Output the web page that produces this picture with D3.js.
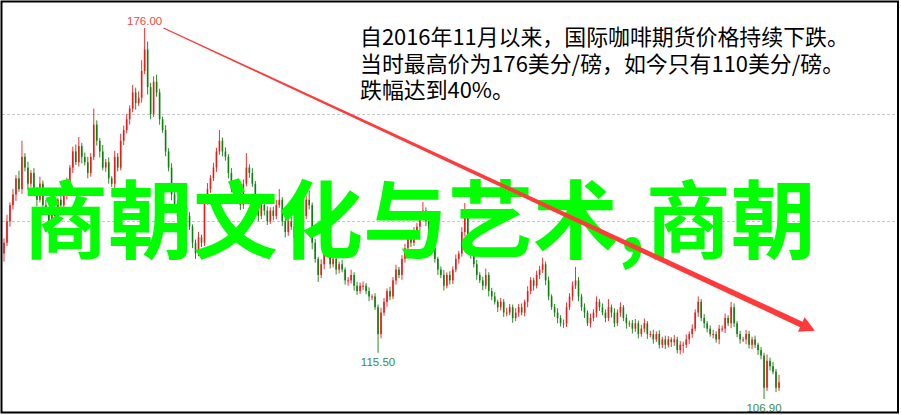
<!DOCTYPE html>
<html><head><meta charset="utf-8">
<script src="https://cdn.jsdelivr.net/npm/d3@7/dist/d3.min.js"></script>
<style>html,body{margin:0;padding:0;background:#fff;}svg{display:block;}</style>
</head><body>
<script>
const firstOpen = 134;
const closes = [
136,140,143,145,148,146,152,150,147,149,
146,144,147,143,142,139,142,141,144,143,
145,147,150,153,151,154,152,151,149,152,
158,155,153,150,151,148,147,152,150,155,
157,159,161,164,162,163,168,172,165,160,
166,164,159,157,153,150,145,143,141,142,
143,141,139,136,134,137,136,144,146,148,
150,153,155,153,152,149,146,144,145,143,
147,150,149,147,144,141,143,142,140,142,
141,143,144,140,138,140,139,137,140,140,
141,144,143,136,133,130,132,135,134,132,
133,131,132,131,129,129,130,128,127,128,
128,127,126,126,124,119,123,125,127,126,
129,131,130,133,135,137,136,138,139,141,
142,140,138,135,133,131,130,128,130,129,
131,133,134,138,141,137,134,132,130,129,
128,130,127,126,125,124,125,123,123,124,
122,123,124,123,125,127,129,128,130,131,
132,129,126,124,123,122,121,121,124,126,
128,129,126,124,123,121,122,123,125,124,
123,122,124,123,121,123,124,122,121,121,
120,121,119,120,121,119,119,118,119,117,
118,117,118,117.5,118,116,117,117,118,119,
120,123,125,122,121,120,119,119,118,120,
120,122,121,124,121,119,118,118,119,117,
118,117,116,115,109,114,113,112,109,110];
const upperWicks = [
0.8,1.2,0.5,1.0,0.6,1.4,3.0,0.7,1.1,0.5,
0.9,0.4,1.3,0.6,1.0,0.5,0.8,1.2,0.4,0.9,
0.6,1.1,0.5,0.9,1.3,1.7,0.6,0.8,1.0,0.7,
3.0,0.8,0.5,1.2,0.6,0.9,0.4,1.1,0.7,1.3,
0.8,1.0,0.6,1.4,0.9,1.2,2.0,4.0,1.5,0.8,
1.0,1.3,0.7,0.5,0.9,0.6,0.8,0.4,1.0,0.7,
0.9,0.5,0.7,0.4,0.6,1.0,0.5,0.8,1.1,0.6,
0.9,0.7,2.0,0.6,0.8,0.5,0.9,0.4,1.0,0.6,
0.8,2.7,0.6,0.9,0.5,0.7,1.0,0.4,0.8,0.6,
0.7,1.0,2.0,0.5,0.8,0.6,0.9,0.4,0.7,1.0,
0.6,0.8,1.8,0.5,0.7,0.4,0.9,0.6,0.8,0.5,
0.7,0.9,0.5,0.8,0.4,0.6,1.0,0.5,0.7,0.6,
0.8,0.5,0.7,0.4,0.6,0.5,0.9,0.7,0.5,0.8,
0.6,0.9,0.5,0.7,0.8,0.6,0.4,0.9,0.7,0.5,
1.6,0.6,0.8,0.5,0.7,0.4,0.6,0.9,0.5,0.7,
0.6,0.8,0.5,0.9,2.4,0.6,0.7,0.4,0.8,0.5,
0.7,1.2,0.5,0.6,0.8,0.4,0.7,0.5,0.9,0.6,
0.5,0.8,0.6,0.7,0.4,0.9,0.6,0.5,0.8,0.7,
1.2,0.5,0.7,0.4,0.6,0.8,0.5,0.7,0.9,0.6,
0.8,2.5,0.6,0.5,0.7,0.4,0.8,0.6,1.0,0.5,
0.7,0.6,1.5,0.5,0.8,0.6,0.9,0.4,0.7,0.5,
0.6,0.8,0.5,0.7,0.9,0.4,0.6,0.8,0.5,0.7,
0.5,0.7,0.6,0.4,0.8,0.5,0.7,0.6,0.9,0.5,
0.8,0.6,1.0,0.5,0.7,0.4,0.6,0.8,0.5,0.7,
0.6,0.8,0.5,1.0,0.7,0.4,0.6,0.5,0.8,0.6,
0.5,0.7,0.4,0.6,0.5,1.2,0.6,0.8,0.5,1.4];
const lowerWicks = [
1.5,0.6,1.0,0.8,1.2,0.5,0.9,0.7,1.1,0.6,
0.8,1.2,0.5,0.9,0.7,1.3,0.6,1.0,0.8,0.5,
0.7,0.9,0.6,1.0,0.5,0.8,1.2,0.6,1.0,0.7,
0.6,0.9,1.1,0.5,0.8,1.0,0.6,0.9,0.7,0.5,
0.8,0.6,1.0,0.7,1.2,0.5,0.9,0.6,1.4,1.0,
0.6,0.8,1.0,0.5,0.9,0.7,1.1,0.6,0.8,0.5,
0.7,0.9,0.6,1.0,1.0,0.5,0.8,0.6,0.9,0.7,
0.5,0.8,0.6,0.9,0.7,1.0,0.6,0.8,0.5,0.9,
0.7,0.5,0.9,0.6,0.8,1.0,0.6,0.9,0.7,0.5,
0.8,0.6,0.5,0.9,1.0,0.7,0.6,0.8,0.5,0.7,
0.9,0.6,0.8,1.2,0.7,1.3,0.6,0.9,0.5,0.8,
0.6,0.9,0.7,0.5,0.8,1.0,0.6,0.9,0.7,0.5,
0.8,0.6,0.9,0.7,0.5,3.5,0.8,0.6,0.9,0.7,
0.5,0.8,0.6,0.9,0.7,0.5,0.8,0.6,0.9,0.7,
0.6,0.9,0.5,0.8,0.7,1.0,0.6,0.9,0.5,0.8,
0.7,0.5,0.9,0.6,0.8,0.7,1.0,0.6,0.9,0.5,
0.8,0.6,1.0,0.7,0.5,0.9,0.6,0.8,0.7,0.5,
0.9,0.6,0.8,0.5,0.7,1.0,0.6,0.9,0.5,0.8,
0.6,0.9,0.7,0.5,0.8,1.0,0.6,0.9,0.7,0.5,
0.8,0.6,0.9,0.7,1.0,0.5,0.8,0.6,0.9,0.7,
0.5,0.8,0.6,0.9,0.7,0.5,0.8,0.6,1.0,0.7,
0.9,0.6,0.8,0.5,0.7,0.9,0.6,0.8,0.5,0.7,
0.6,0.8,0.5,0.9,0.7,0.6,0.8,1.5,0.6,0.9,
0.7,0.5,0.8,0.6,0.9,0.7,0.5,0.8,0.6,0.9,
0.6,0.8,0.5,0.9,0.7,0.6,0.8,0.5,0.9,0.7,
0.8,0.6,0.9,0.7,2.1,0.6,0.8,0.5,0.8,0.6];
const gridValues = [160, 140];
const labelIndex = [47, 125, 254];
const labelValues = [176.00, 115.50, 106.90];
const arrowFrom = [53.3, 176];
const arrowTo = [271, 119.6];
const noteLines = ["自2016年11月以来，国际咖啡期货价格持续下跌。","当时最高价为176美分/磅，如今只有110美分/磅。","跌幅达到40%。"];
const overlayText = "商朝文化与艺术,商朝";

const W = 901, H = 415;
const data = closes.map((c, i) => {
  const o = i === 0 ? firstOpen : closes[i - 1];
  return {i, o, c, h: Math.max(o, c) + upperWicks[i], l: Math.min(o, c) - lowerWicks[i]};
});

const svg = d3.select("body").append("svg").attr("width", W).attr("height", H);
const x = d3.scaleLinear().domain([0, closes.length - 1]).range([4, 779]);
const y = d3.scaleLinear().domain([176, 106.9]).range([28, 399]);

// grid
svg.selectAll("line.grid").data(gridValues).enter().append("line")
  .attr("x1", 2).attr("x2", 898)
  .attr("y1", d => Math.round(y(d)) + 0.5).attr("y2", d => Math.round(y(d)) + 0.5)
  .attr("stroke", "#c8c8c8").attr("stroke-width", 1).attr("stroke-dasharray", "3,2");

const red = "#f01818", green = "#0e800e";
const g = svg.append("g");
const candle = g.selectAll("g.c").data(data).enter().append("g");
candle.append("line")
  .attr("x1", d => x(d.i)).attr("x2", d => x(d.i))
  .attr("y1", d => y(d.h)).attr("y2", d => y(d.l))
  .attr("stroke", d => d.c >= d.o ? red : green).attr("stroke-width", 0.9);
candle.append("rect")
  .attr("x", d => x(d.i) - 0.8).attr("width", 1.6)
  .attr("y", d => y(Math.max(d.o, d.c)))
  .attr("height", d => Math.max(1, y(Math.min(d.o, d.c)) - y(Math.max(d.o, d.c))))
  .attr("fill", d => d.c >= d.o ? red : green);

// labels
const labelColors = ["#f04848", "#3a8a4a", "#3a8a4a"];
svg.selectAll("text.lab").data(labelValues).enter().append("text")
  .attr("x", (d, k) => x(labelIndex[k]))
  .attr("y", (d, k) => k === 0 ? y(d) - 3 : y(d) + 13)
  .attr("text-anchor", "middle")
  .attr("font-family", "Liberation Sans, Arial, sans-serif").attr("font-size", 11.5)
  .attr("fill", (d, k) => labelColors[k])
  .text(d => d.toFixed(2));

// note text (one text block, three lines)
const note = svg.append("text").attr("x", 360).attr("y", 45)
  .attr("font-family", "Noto Sans CJK SC, sans-serif").attr("font-size", 21.9)
  .attr("fill", "#000");
note.selectAll("tspan").data(noteLines).enter().append("tspan")
  .attr("x", 360).attr("dy", (d, k) => k === 0 ? 0 : 26.5).text(d => d);

// overlay green text
svg.append("text").attr("x", 23).attr("y", 252)
  .attr("font-family", "Noto Sans CJK SC, sans-serif").attr("font-weight", 700)
  .attr("font-size", 85).attr("fill", "#00ff00").text(overlayText);

// arrow (tapered)
const p0 = [x(arrowFrom[0]), y(arrowFrom[1])], p1 = [x(arrowTo[0]), y(arrowTo[1])];
const dx = p1[0] - p0[0], dy = p1[1] - p0[1], len = Math.hypot(dx, dy);
const ux = dx / len, uy = dy / len, nx = -uy, ny = ux;
const headLen = 15, headW = 8;
const b = [p1[0] - ux * headLen, p1[1] - uy * headLen];
const w0 = 0.6, w1 = 3.0;
const pts = [
  [p0[0] + nx * w0, p0[1] + ny * w0],
  [b[0] + nx * w1, b[1] + ny * w1],
  [b[0] + nx * headW, b[1] + ny * headW],
  p1,
  [b[0] - nx * headW, b[1] - ny * headW],
  [b[0] - nx * w1, b[1] - ny * w1],
  [p0[0] - nx * w0, p0[1] - ny * w0]];
svg.append("path").attr("d", d3.line()(pts) + "Z").attr("fill", "#ff3a3a");

// border
svg.append("rect").attr("x", 1.5).attr("y", 1.5).attr("width", 896.5).attr("height", 411)
  .attr("fill", "none").attr("stroke", "#000").attr("stroke-width", 2);
</script>
</body></html>
